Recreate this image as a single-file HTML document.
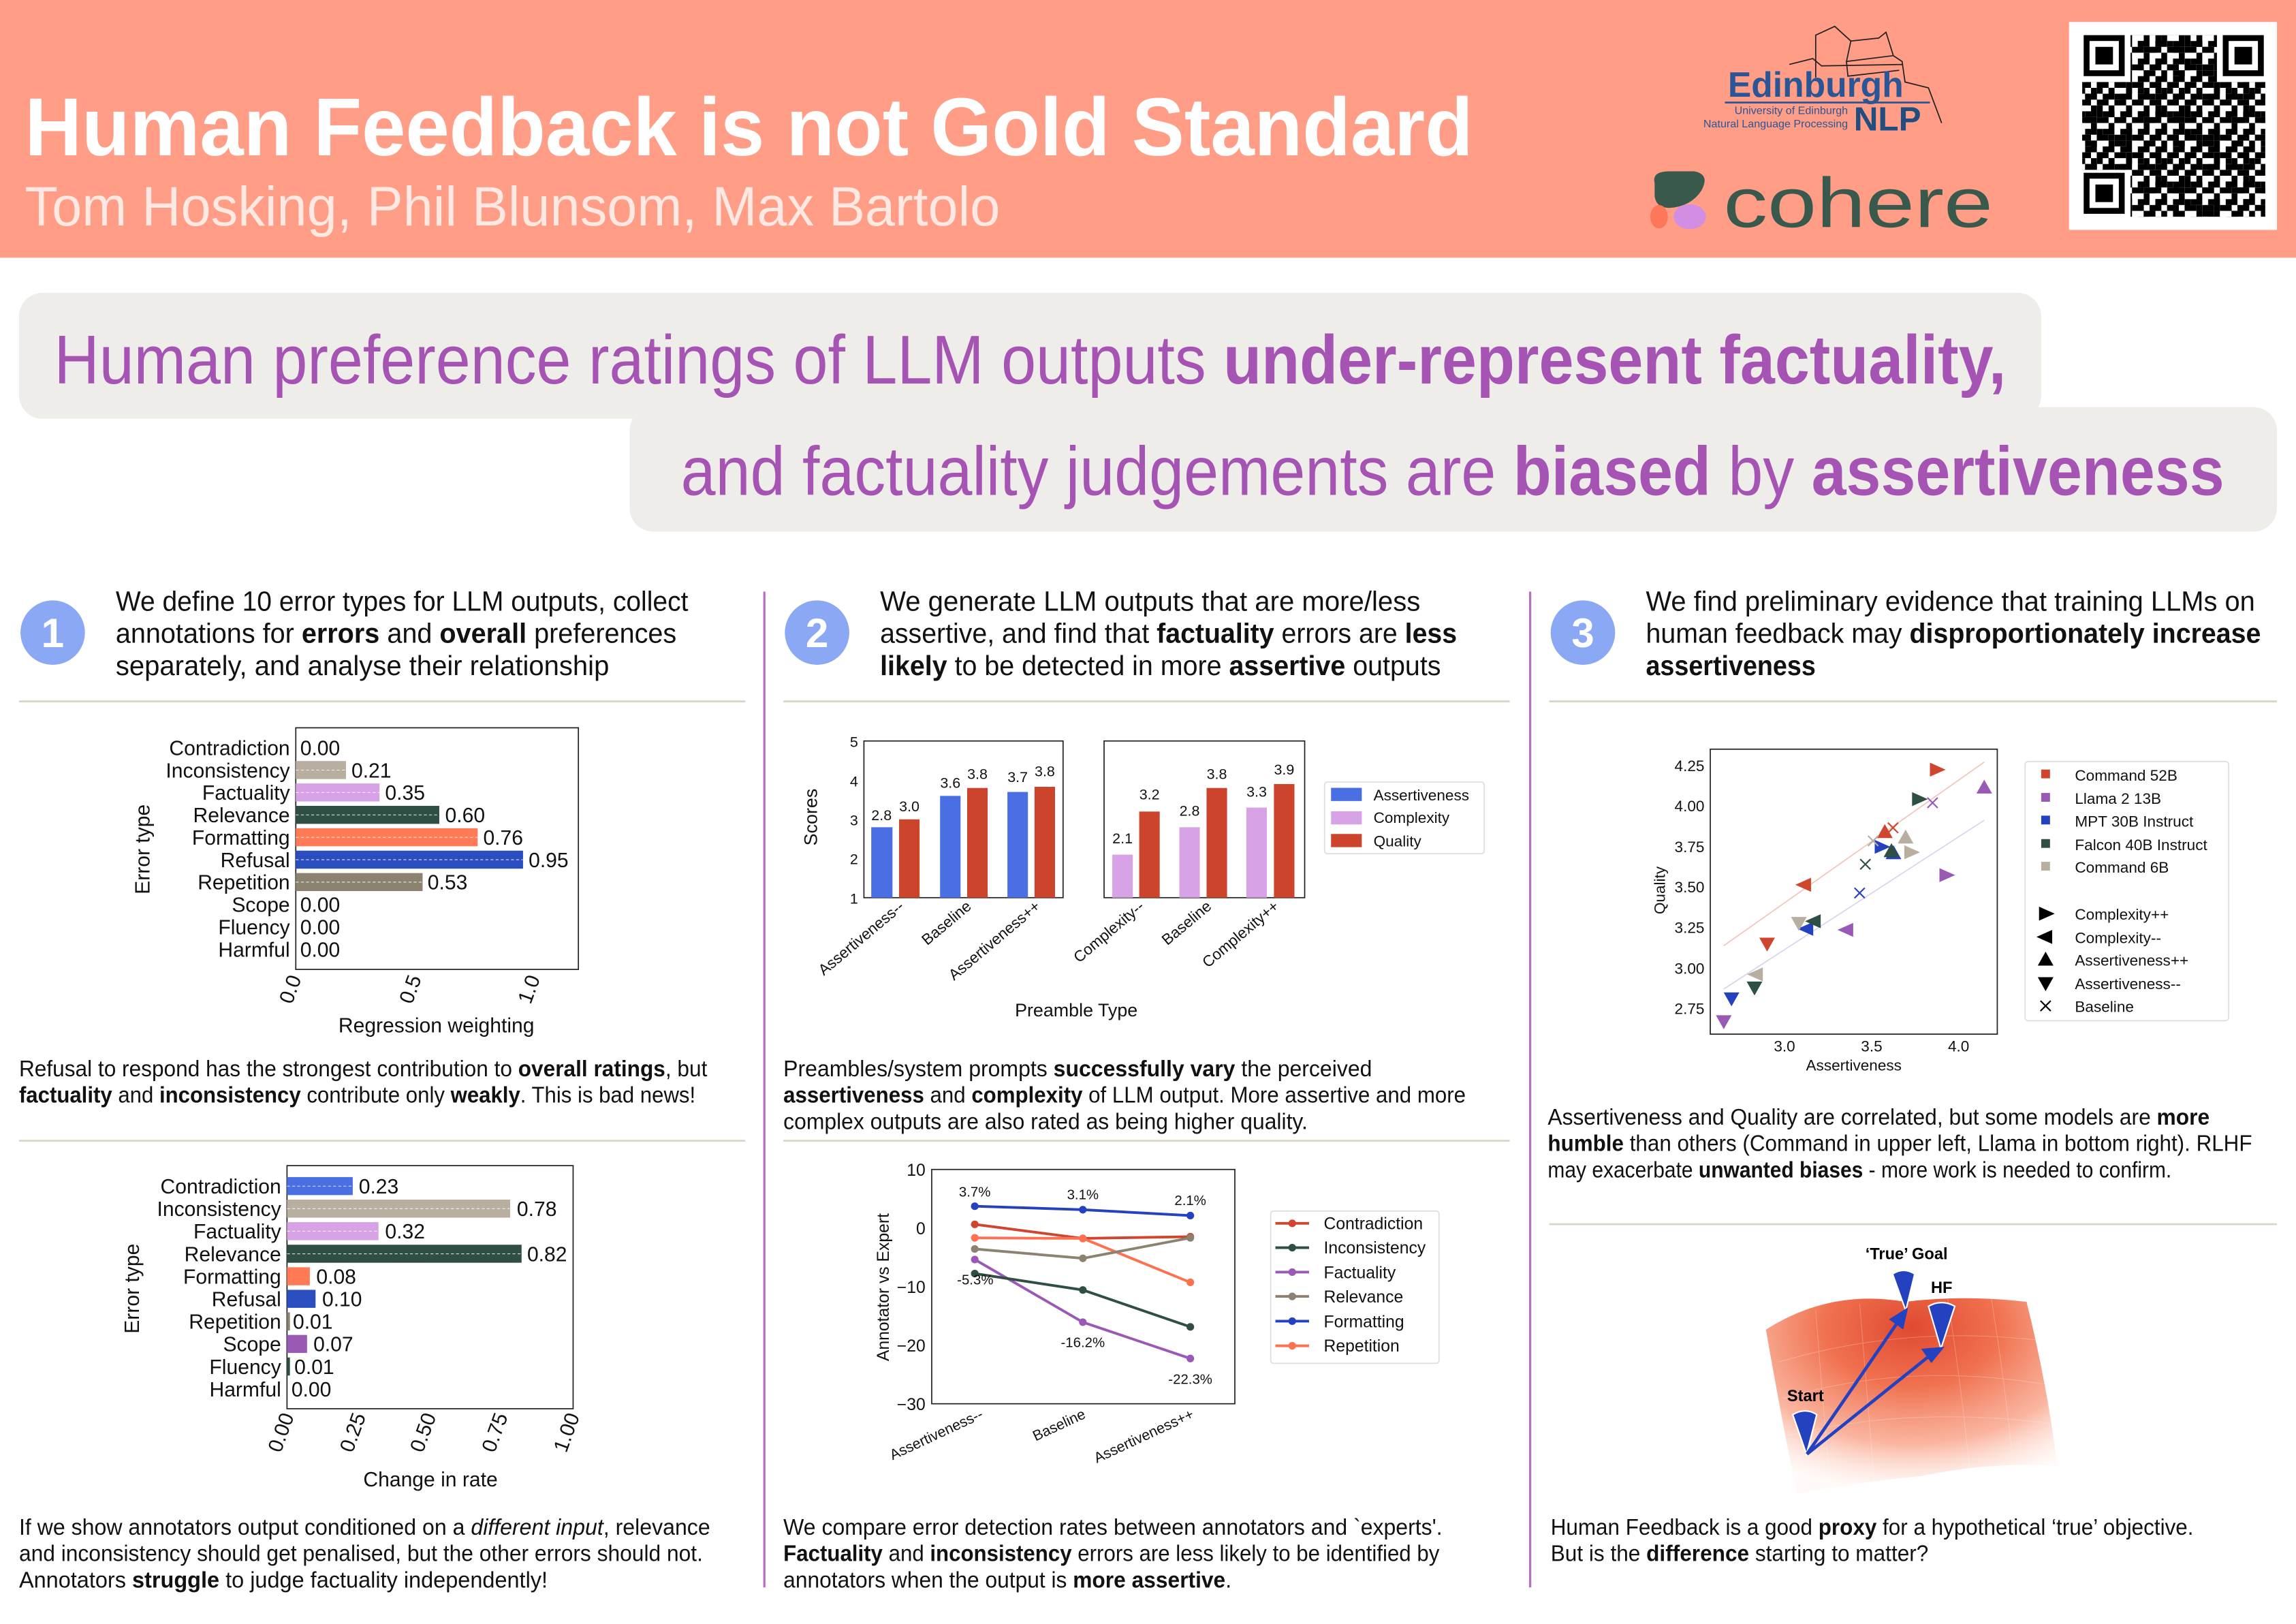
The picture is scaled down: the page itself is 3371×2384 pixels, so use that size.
<!DOCTYPE html>
<html><head><meta charset="utf-8"><style>
html,body{margin:0;padding:0;background:#fff;}
svg{display:block;}
text{font-family:"Liberation Sans",sans-serif;}
</style></head><body>
<svg width="3371" height="2384" viewBox="0 0 1568 1109" preserveAspectRatio="none" xmlns="http://www.w3.org/2000/svg">
<defs>
<path id="tr" d="M-4,-4L5,0L-4,4Z"/>
<path id="tl" d="M4,-4L-5,0L4,4Z"/>
<path id="tu" d="M-4.5,3.5L0,-4.5L4.5,3.5Z"/>
<path id="td" d="M-4.5,-3.5L0,4.5L4.5,-3.5Z"/>
<path id="tx" d="M-3.5,-3.5L3.5,3.5M-3.5,3.5L3.5,-3.5" fill="none" stroke-width="1"/>
<radialGradient id="surf" cx="0.5" cy="0.15" r="0.85">
<stop offset="0" stop-color="#E04A30"/><stop offset="0.35" stop-color="#F0714F"/><stop offset="0.7" stop-color="#F9A88F" stop-opacity="0.85"/><stop offset="1" stop-color="#FFE8E0" stop-opacity="0.2"/>
</radialGradient>
<pattern id="qa" width="12" height="12" patternUnits="userSpaceOnUse"><rect x="0" y="0" width="4" height="8" fill="#000"/><rect x="8" y="4" width="4" height="4" fill="#000"/><rect x="4" y="8" width="8" height="4" fill="#000"/></pattern>
<pattern id="qb" width="20" height="16" patternUnits="userSpaceOnUse"><rect x="4" y="0" width="8" height="4" fill="#000"/><rect x="12" y="8" width="4" height="8" fill="#000"/><rect x="0" y="12" width="4" height="4" fill="#000"/></pattern>
</defs>

<!-- header -->
<rect x="0" y="0" width="1568" height="176" fill="#FF9D87"/>
<text x="17" y="106" font-size="56" font-weight="bold" fill="#fff" textLength="989" lengthAdjust="spacingAndGlyphs">Human Feedback is not Gold Standard</text>
<text x="17" y="154" font-size="38" fill="#FFE8E1" textLength="666" lengthAdjust="spacingAndGlyphs">Tom Hosking, Phil Blunsom, Max Bartolo</text>
<path d="M1240,53 L1240,24 L1253,18 L1264,28 L1283,26 L1288,22 L1293,38 L1299,42 L1301,56 L1317,60 L1326,84 M1264,28 L1261,42 L1293,38 M1261,42 L1262,52 L1297,48 M1222,44 L1238,40 L1244,45 L1299,44" fill="none" stroke="#222" stroke-width="0.8"/>
<text x="1180" y="66" font-size="24" font-weight="bold" fill="#2B5696">Edinburgh</text>
<line x1="1178" y1="70" x2="1318" y2="70" stroke="#2B5696" stroke-width="1.3"/>
<text x="1262" y="78" font-size="7.5" font-family="Liberation Serif" fill="#2B5696" text-anchor="end">University of Edinburgh</text>
<text x="1262" y="87" font-size="7.5" font-family="Liberation Serif" fill="#2B5696" text-anchor="end">Natural Language Processing</text>
<text x="1266" y="89" font-size="23" font-weight="bold" fill="#1F4E7F">NLP</text>
<path d="M1130,125 Q1128,117 1140,117 L1157,117 Q1168,119 1162,130 Q1155,141 1140,142 Q1131,142 1130,134 Z" fill="#39594D"/>
<ellipse cx="1133" cy="148" rx="6" ry="8" fill="#FF7759"/>
<ellipse cx="1154" cy="148" rx="11" ry="8.5" fill="#D18EE2"/>
<text x="1177" y="155" font-size="48" fill="#39594D" font-family="DejaVu Sans" textLength="184" lengthAdjust="spacingAndGlyphs">cohere</text>
<rect x="1413" y="15" width="142" height="142" fill="#fff"/>
<rect x="1422" y="24" width="125" height="124" fill="url(#qa)"/>
<rect x="1422" y="24" width="125" height="124" fill="url(#qb)"/>
<g>
<rect x="1421" y="22" width="34" height="34" fill="#fff"/><rect x="1423" y="24" width="28" height="28" fill="#000"/><rect x="1427" y="28" width="20" height="20" fill="#fff"/><rect x="1431" y="32" width="12" height="12" fill="#000"/>
<rect x="1514" y="22" width="34" height="34" fill="#fff"/><rect x="1518" y="24" width="28" height="28" fill="#000"/><rect x="1522" y="28" width="20" height="20" fill="#fff"/><rect x="1526" y="32" width="12" height="12" fill="#000"/>
<rect x="1421" y="116" width="34" height="34" fill="#fff"/><rect x="1423" y="118" width="28" height="28" fill="#000"/><rect x="1427" y="122" width="20" height="20" fill="#fff"/><rect x="1431" y="126" width="12" height="12" fill="#000"/>
</g>

<!-- headline -->
<rect x="13" y="200" width="1381" height="86" rx="16" fill="#EFEDEA"/>
<rect x="430" y="278" width="1125" height="85" rx="16" fill="#EFEDEA"/>
<text x="37" y="262" font-size="47" fill="#A654B4" textLength="1333" lengthAdjust="spacingAndGlyphs">Human preference ratings of LLM outputs <tspan font-weight="bold">under-represent factuality,</tspan></text>
<text x="465" y="338" font-size="47" fill="#A654B4" textLength="1054" lengthAdjust="spacingAndGlyphs">and factuality judgements are <tspan font-weight="bold">biased</tspan> by <tspan font-weight="bold">assertiveness</tspan></text>

<line x1="522" y1="404" x2="522" y2="1084" stroke="#B56FC0" stroke-width="1.5"/>
<line x1="1045" y1="404" x2="1045" y2="1084" stroke="#B56FC0" stroke-width="1.5"/>
<g stroke="#DDD4C8" stroke-width="1.3">
<line x1="13" y1="479" x2="509" y2="479"/><line x1="13" y1="779" x2="509" y2="779"/>
<line x1="535" y1="479" x2="1031" y2="479"/><line x1="535" y1="779" x2="1031" y2="779"/>
<line x1="1058" y1="479" x2="1555" y2="479"/><line x1="1058" y1="836" x2="1555" y2="836"/>
</g>

<g font-size="19" fill="#111">
<circle cx="36" cy="432" r="22" fill="#8AA8F4"/><text x="36" y="442" font-size="28" font-weight="bold" fill="#fff" text-anchor="middle">1</text>
<text x="79" y="417" textLength="391" lengthAdjust="spacingAndGlyphs">We define 10 error types for LLM outputs, collect</text>
<text x="79" y="439" textLength="383" lengthAdjust="spacingAndGlyphs">annotations for <tspan font-weight="bold">errors</tspan> and <tspan font-weight="bold">overall</tspan> preferences</text>
<text x="79" y="461" textLength="337" lengthAdjust="spacingAndGlyphs">separately, and analyse their relationship</text>
<circle cx="558" cy="432" r="22" fill="#8AA8F4"/><text x="558" y="442" font-size="28" font-weight="bold" fill="#fff" text-anchor="middle">2</text>
<text x="601" y="417" textLength="369" lengthAdjust="spacingAndGlyphs">We generate LLM outputs that are more/less</text>
<text x="601" y="439" textLength="394" lengthAdjust="spacingAndGlyphs">assertive, and find that <tspan font-weight="bold">factuality</tspan> errors are <tspan font-weight="bold">less</tspan></text>
<text x="601" y="461" textLength="383" lengthAdjust="spacingAndGlyphs"><tspan font-weight="bold">likely</tspan> to be detected in more <tspan font-weight="bold">assertive</tspan> outputs</text>
<circle cx="1081" cy="432" r="22" fill="#8AA8F4"/><text x="1081" y="442" font-size="28" font-weight="bold" fill="#fff" text-anchor="middle">3</text>
<text x="1124" y="417" textLength="416" lengthAdjust="spacingAndGlyphs">We find preliminary evidence that training LLMs on</text>
<text x="1124" y="439" textLength="420" lengthAdjust="spacingAndGlyphs">human feedback may <tspan font-weight="bold">disproportionately increase</tspan></text>
<text x="1124" y="461" font-weight="bold" textLength="116" lengthAdjust="spacingAndGlyphs">assertiveness</text>
</g>

<g font-size="15.5" fill="#111">
<text x="13" y="735" textLength="470" lengthAdjust="spacingAndGlyphs">Refusal to respond has the strongest contribution to <tspan font-weight="bold">overall ratings</tspan>, but</text>
<text x="13" y="753" textLength="462" lengthAdjust="spacingAndGlyphs"><tspan font-weight="bold">factuality</tspan> and <tspan font-weight="bold">inconsistency</tspan> contribute only <tspan font-weight="bold">weakly</tspan>. This is bad news!</text>
<text x="13" y="1048" textLength="472" lengthAdjust="spacingAndGlyphs">If we show annotators output conditioned on a <tspan font-style="italic">different input</tspan>, relevance</text>
<text x="13" y="1066" textLength="467" lengthAdjust="spacingAndGlyphs">and inconsistency should get penalised, but the other errors should not.</text>
<text x="13" y="1084" textLength="361" lengthAdjust="spacingAndGlyphs">Annotators <tspan font-weight="bold">struggle</tspan> to judge factuality independently!</text>
<text x="535" y="735" textLength="402" lengthAdjust="spacingAndGlyphs">Preambles/system prompts <tspan font-weight="bold">successfully vary</tspan> the perceived</text>
<text x="535" y="753" textLength="466" lengthAdjust="spacingAndGlyphs"><tspan font-weight="bold">assertiveness</tspan> and <tspan font-weight="bold">complexity</tspan> of LLM output. More assertive and more</text>
<text x="535" y="771" textLength="358" lengthAdjust="spacingAndGlyphs">complex outputs are also rated as being higher quality.</text>
<text x="535" y="1048" textLength="450" lengthAdjust="spacingAndGlyphs">We compare error detection rates between annotators and `experts'.</text>
<text x="535" y="1066" textLength="448" lengthAdjust="spacingAndGlyphs"><tspan font-weight="bold">Factuality</tspan> and <tspan font-weight="bold">inconsistency</tspan> errors are less likely to be identified by</text>
<text x="535" y="1084" textLength="306" lengthAdjust="spacingAndGlyphs">annotators when the output is <tspan font-weight="bold">more assertive</tspan>.</text>
<text x="1057" y="768" textLength="452" lengthAdjust="spacingAndGlyphs">Assertiveness and Quality are correlated, but some models are <tspan font-weight="bold">more</tspan></text>
<text x="1057" y="786" textLength="481" lengthAdjust="spacingAndGlyphs"><tspan font-weight="bold">humble</tspan> than others (Command in upper left, Llama in bottom right). RLHF</text>
<text x="1057" y="804" textLength="426" lengthAdjust="spacingAndGlyphs">may exacerbate <tspan font-weight="bold">unwanted biases</tspan> - more work is needed to confirm.</text>
<text x="1059" y="1048" textLength="439" lengthAdjust="spacingAndGlyphs">Human Feedback is a good <tspan font-weight="bold">proxy</tspan> for a hypothetical ‘true’ objective.</text>
<text x="1059" y="1066" textLength="258" lengthAdjust="spacingAndGlyphs">But is the <tspan font-weight="bold">difference</tspan> starting to matter?</text>
</g>

<!-- Chart 1 -->
<g font-size="14" fill="#111">
<rect x="202" y="497" width="193" height="165" fill="none" stroke="#222" stroke-width="0.8"/>
<rect x="202" y="565.6" width="124.2" height="12.3" fill="#FF7A55"/>
<rect x="202" y="519.7" width="34.3" height="12.3" fill="#B8AFA0"/>
<rect x="202" y="535" width="57.2" height="12.3" fill="#D8A3E6"/>
<rect x="202" y="550.3" width="98" height="12.3" fill="#2F4F45"/>
<rect x="202" y="580.9" width="155.2" height="12.3" fill="#2A4EC0"/>
<rect x="202" y="596.2" width="86.6" height="12.3" fill="#8C8270"/>
<g stroke="#fff" stroke-width="0.5" stroke-dasharray="2,1.5" opacity="0.8">
<line x1="202" y1="525.9" x2="236" y2="525.9"/><line x1="202" y1="541.2" x2="259" y2="541.2"/><line x1="202" y1="556.5" x2="300" y2="556.5"/><line x1="202" y1="571.8" x2="326" y2="571.8"/><line x1="202" y1="587.1" x2="357" y2="587.1"/><line x1="202" y1="602.4" x2="288" y2="602.4"/>
</g>
<g text-anchor="end">
<text x="198" y="515.6">Contradiction</text><text x="198" y="530.9">Inconsistency</text><text x="198" y="546.2">Factuality</text><text x="198" y="561.5">Relevance</text><text x="198" y="576.8">Formatting</text><text x="198" y="592.1">Refusal</text><text x="198" y="607.4">Repetition</text><text x="198" y="622.7">Scope</text><text x="198" y="638">Fluency</text><text x="198" y="653.3">Harmful</text>
</g>
<text x="205" y="515.6">0.00</text><text x="240" y="530.9">0.21</text><text x="263" y="546.2">0.35</text><text x="304" y="561.5">0.60</text><text x="330" y="576.8">0.76</text><text x="361" y="592.1">0.95</text><text x="292" y="607.4">0.53</text><text x="205" y="622.7">0.00</text><text x="205" y="638">0.00</text><text x="205" y="653.3">0.00</text>
<text transform="translate(206,668) rotate(-70)" text-anchor="end">0.0</text>
<text transform="translate(288,668) rotate(-70)" text-anchor="end">0.5</text>
<text transform="translate(369,668) rotate(-70)" text-anchor="end">1.0</text>
<text x="298" y="705" text-anchor="middle">Regression weighting</text>
<text transform="translate(102,580) rotate(-90)" text-anchor="middle">Error type</text>
</g>

<!-- Chart 2 -->
<g font-size="14" fill="#111">
<rect x="196" y="796" width="195.4" height="166" fill="none" stroke="#222" stroke-width="0.8"/>
<rect x="196" y="803.8" width="44.9" height="12.3" fill="#4A6FE3"/>
<rect x="196" y="819.2" width="152.4" height="12.3" fill="#B8AFA0"/>
<rect x="196" y="834.6" width="62.5" height="12.3" fill="#D8A3E6"/>
<rect x="196" y="850" width="160.2" height="12.3" fill="#2F4F45"/>
<rect x="196" y="865.4" width="15.6" height="12.3" fill="#FF7A55"/>
<rect x="196" y="880.8" width="19.5" height="12.3" fill="#2A4EC0"/>
<rect x="196" y="896.2" width="2" height="12.3" fill="#8C8270"/>
<rect x="196" y="911.6" width="13.7" height="12.3" fill="#9B59B6"/>
<rect x="196" y="927" width="2" height="12.3" fill="#2F4F45"/>
<g stroke="#fff" stroke-width="0.5" stroke-dasharray="2,1.5" opacity="0.8">
<line x1="196" y1="810" x2="240" y2="810"/><line x1="196" y1="825.4" x2="348" y2="825.4"/><line x1="196" y1="840.8" x2="258" y2="840.8"/><line x1="196" y1="856.2" x2="356" y2="856.2"/>
</g>
<g text-anchor="end">
<text x="192" y="815">Contradiction</text><text x="192" y="830.4">Inconsistency</text><text x="192" y="845.8">Factuality</text><text x="192" y="861.2">Relevance</text><text x="192" y="876.6">Formatting</text><text x="192" y="892">Refusal</text><text x="192" y="907.4">Repetition</text><text x="192" y="922.8">Scope</text><text x="192" y="938.2">Fluency</text><text x="192" y="953.6">Harmful</text>
</g>
<text x="245" y="815">0.23</text><text x="353" y="830.4">0.78</text><text x="263" y="845.8">0.32</text><text x="360" y="861.2">0.82</text><text x="216" y="876.6">0.08</text><text x="220" y="892">0.10</text><text x="200" y="907.4">0.01</text><text x="214" y="922.8">0.07</text><text x="201" y="938.2">0.01</text><text x="199" y="953.6">0.00</text>
<text transform="translate(201,967) rotate(-70)" text-anchor="end">0.00</text>
<text transform="translate(250,967) rotate(-70)" text-anchor="end">0.25</text>
<text transform="translate(298,967) rotate(-70)" text-anchor="end">0.50</text>
<text transform="translate(347,967) rotate(-70)" text-anchor="end">0.75</text>
<text transform="translate(396,967) rotate(-70)" text-anchor="end">1.00</text>
<text x="294" y="1015" text-anchor="middle">Change in rate</text>
<text transform="translate(95,880) rotate(-90)" text-anchor="middle">Error type</text>
</g>

<!-- Middle bar chart -->
<g font-size="10" fill="#111">
<rect x="590" y="506" width="136" height="107" fill="none" stroke="#222" stroke-width="0.8"/>
<rect x="754" y="506" width="137" height="107" fill="none" stroke="#222" stroke-width="0.8"/>
<rect x="595" y="564.9" width="14.5" height="48.1" fill="#4A6FE3"/>
<rect x="614" y="559.5" width="14" height="53.5" fill="#CB442B"/>
<rect x="642" y="543.5" width="14" height="69.5" fill="#4A6FE3"/>
<rect x="660.5" y="538.1" width="14" height="74.9" fill="#CB442B"/>
<rect x="688" y="540.8" width="14" height="72.2" fill="#4A6FE3"/>
<rect x="706.5" y="537.3" width="14" height="75.7" fill="#CB442B"/>
<rect x="759.6" y="583.6" width="14" height="29.4" fill="#D8A3E6"/>
<rect x="778" y="554.2" width="14" height="58.8" fill="#CB442B"/>
<rect x="805.4" y="564.9" width="14" height="48.1" fill="#D8A3E6"/>
<rect x="824" y="538.1" width="14" height="74.9" fill="#CB442B"/>
<rect x="851.2" y="551.5" width="14" height="61.5" fill="#D8A3E6"/>
<rect x="870" y="535.4" width="14" height="77.6" fill="#CB442B"/>
<g text-anchor="middle">
<text x="602" y="560">2.8</text><text x="621" y="554">3.0</text><text x="649" y="538">3.6</text><text x="667.5" y="532">3.8</text><text x="695" y="534">3.7</text><text x="713.5" y="530">3.8</text>
<text x="766.6" y="576">2.1</text><text x="785" y="546">3.2</text><text x="812.4" y="557">2.8</text><text x="831" y="532">3.8</text><text x="858.2" y="544">3.3</text><text x="877" y="529">3.9</text>
</g>
<g text-anchor="end">
<text x="586" y="510">5</text><text x="586" y="537">4</text><text x="586" y="563.5">3</text><text x="586" y="590">2</text><text x="586" y="617">1</text>
</g>
<g font-size="10.5">
<text transform="translate(618,620) rotate(-40)" text-anchor="end">Assertiveness--</text>
<text transform="translate(664,620) rotate(-40)" text-anchor="end">Baseline</text>
<text transform="translate(711,620) rotate(-40)" text-anchor="end">Assertiveness++</text>
<text transform="translate(782,620) rotate(-40)" text-anchor="end">Complexity--</text>
<text transform="translate(828,620) rotate(-40)" text-anchor="end">Baseline</text>
<text transform="translate(874,620) rotate(-40)" text-anchor="end">Complexity++</text>
</g>
<text x="735" y="694" font-size="12.5" text-anchor="middle">Preamble Type</text>
<text transform="translate(558,558) rotate(-90)" font-size="12.5" text-anchor="middle">Scores</text>
<rect x="904.6" y="534" width="109" height="49" rx="2" fill="#fff" stroke="#ddd" stroke-width="0.8"/>
<rect x="909" y="538" width="21" height="9" fill="#4A6FE3"/><text x="938" y="546.5" font-size="10.5">Assertiveness</text>
<rect x="909" y="554" width="21" height="9" fill="#D8A3E6"/><text x="938" y="562" font-size="10.5">Complexity</text>
<rect x="909" y="569.5" width="21" height="9" fill="#CB442B"/><text x="938" y="578" font-size="10.5">Quality</text>
</g>

<!-- Line chart -->
<g font-size="10" fill="#111">
<rect x="636.3" y="798.6" width="207" height="160" fill="none" stroke="#222" stroke-width="0.8"/>
<g text-anchor="end" font-size="11.5">
<text x="632" y="803">10</text><text x="632" y="843">0</text><text x="632" y="883">−10</text><text x="632" y="923">−20</text><text x="632" y="963">−30</text>
</g>
<g fill="none" stroke-width="1.8">
<polyline points="665.7,823.7 739.5,826.1 812.9,830.1" stroke="#2442C0"/>
<polyline points="665.7,836.1 739.5,845.7 812.9,844.5" stroke="#D0452E"/>
<polyline points="665.7,845.3 739.5,845.7 812.9,875.7" stroke="#FF7050"/>
<polyline points="665.7,852.9 739.5,859.3 812.9,845.3" stroke="#8C8270"/>
<polyline points="665.7,860.1 739.5,902.9 812.9,927.7" stroke="#9B59B6"/>
<polyline points="665.7,869.7 739.5,880.9 812.9,906.1" stroke="#2F4F45"/>
</g>
<g>
<circle cx="665.7" cy="823.7" r="2.6" fill="#2442C0"/><circle cx="739.5" cy="826.1" r="2.6" fill="#2442C0"/><circle cx="812.9" cy="830.1" r="2.6" fill="#2442C0"/>
<circle cx="665.7" cy="836.1" r="2.6" fill="#D0452E"/><circle cx="739.5" cy="845.7" r="2.6" fill="#D0452E"/><circle cx="812.9" cy="844.5" r="2.6" fill="#D0452E"/>
<circle cx="665.7" cy="845.3" r="2.6" fill="#FF7050"/><circle cx="739.5" cy="845.7" r="2.6" fill="#FF7050"/><circle cx="812.9" cy="875.7" r="2.6" fill="#FF7050"/>
<circle cx="665.7" cy="852.9" r="2.6" fill="#8C8270"/><circle cx="739.5" cy="859.3" r="2.6" fill="#8C8270"/><circle cx="812.9" cy="845.3" r="2.6" fill="#8C8270"/>
<circle cx="665.7" cy="860.1" r="2.6" fill="#9B59B6"/><circle cx="739.5" cy="902.9" r="2.6" fill="#9B59B6"/><circle cx="812.9" cy="927.7" r="2.6" fill="#9B59B6"/>
<circle cx="665.7" cy="869.7" r="2.6" fill="#2F4F45"/><circle cx="739.5" cy="880.9" r="2.6" fill="#2F4F45"/><circle cx="812.9" cy="906.1" r="2.6" fill="#2F4F45"/>
</g>
<g text-anchor="middle" font-size="9.5">
<text x="665.7" y="817">3.7%</text><text x="739.5" y="819">3.1%</text><text x="812.9" y="823">2.1%</text>
<text x="666" y="877">-5.3%</text><text x="739.5" y="920">-16.2%</text><text x="812.9" y="945">-22.3%</text>
</g>
<text transform="translate(672,968) rotate(-25)" text-anchor="end">Assertiveness--</text>
<text transform="translate(742,968) rotate(-25)" text-anchor="end">Baseline</text>
<text transform="translate(816,968) rotate(-25)" text-anchor="end">Assertiveness++</text>
<text transform="translate(607,879) rotate(-90)" font-size="11.5" text-anchor="middle">Annotator vs Expert</text>
<rect x="867.8" y="827" width="115" height="104" rx="2" fill="#fff" stroke="#ddd" stroke-width="0.8"/>
<g stroke-width="1.8">
<line x1="871" y1="835.4" x2="894" y2="835.4" stroke="#D0452E"/><circle cx="882.5" cy="835.4" r="2.6" fill="#D0452E"/>
<line x1="871" y1="852" x2="894" y2="852" stroke="#2F4F45"/><circle cx="882.5" cy="852" r="2.6" fill="#2F4F45"/>
<line x1="871" y1="868.7" x2="894" y2="868.7" stroke="#9B59B6"/><circle cx="882.5" cy="868.7" r="2.6" fill="#9B59B6"/>
<line x1="871" y1="885.3" x2="894" y2="885.3" stroke="#8C8270"/><circle cx="882.5" cy="885.3" r="2.6" fill="#8C8270"/>
<line x1="871" y1="902.2" x2="894" y2="902.2" stroke="#2442C0"/><circle cx="882.5" cy="902.2" r="2.6" fill="#2442C0"/>
<line x1="871" y1="919" x2="894" y2="919" stroke="#FF7050"/><circle cx="882.5" cy="919" r="2.6" fill="#FF7050"/>
</g>
<g font-size="11.5">
<text x="904" y="839.5">Contradiction</text><text x="904" y="856">Inconsistency</text><text x="904" y="873">Factuality</text><text x="904" y="889.5">Relevance</text><text x="904" y="906.5">Formatting</text><text x="904" y="923">Repetition</text>
</g>
</g>

<!-- Scatter -->
<g font-size="10.5" fill="#111">
<rect x="1168" y="511.6" width="196" height="194.6" fill="none" stroke="#222" stroke-width="0.8"/>
<line x1="1177.2" y1="645.8" x2="1355.1" y2="520.4" stroke="#F2C4BC" stroke-width="0.8"/>
<line x1="1177.2" y1="675.4" x2="1355.1" y2="560.1" stroke="#D8D4EC" stroke-width="0.8"/>
<g fill="#D0452E" stroke="#D0452E"><use href="#tr" x="1322.5" y="525.6"/><use href="#tl" x="1232.3" y="604.2"/><use href="#tu" x="1287.2" y="568.3"/><use href="#td" x="1206.8" y="644.3"/><use href="#tx" x="1292.8" y="565.3"/></g>
<g fill="#9B59B6" stroke="#9B59B6"><use href="#tu" x="1355.1" y="537.9"/><use href="#tx" x="1319.8" y="548.2"/><use href="#tr" x="1329" y="597.6"/><use href="#tl" x="1261.1" y="635"/><use href="#td" x="1177.2" y="697.3"/></g>
<g fill="#2442C0" stroke="#2442C0"><use href="#tr" x="1284.8" y="578.3"/><use href="#tl" x="1233.8" y="634.3"/><use href="#tu" x="1293.1" y="582.7"/><use href="#td" x="1182.5" y="681.7"/><use href="#tx" x="1270" y="609.8"/></g>
<g fill="#2F4F45" stroke="#2F4F45"><use href="#tr" x="1310.3" y="545.7"/><use href="#tl" x="1238.9" y="629.1"/><use href="#tu" x="1291.7" y="581.3"/><use href="#td" x="1198.2" y="674.3"/><use href="#tx" x="1273.9" y="590.2"/></g>
<g fill="#B8AFA0" stroke="#B8AFA0"><use href="#tr" x="1305" y="582"/><use href="#tl" x="1199.4" y="665.4"/><use href="#tu" x="1301.4" y="572"/><use href="#td" x="1228.5" y="630.2"/><use href="#tx" x="1279.2" y="574.2"/></g>
<g text-anchor="end">
<text x="1164" y="526.5">4.25</text><text x="1164" y="554">4.00</text><text x="1164" y="582">3.75</text><text x="1164" y="609.5">3.50</text><text x="1164" y="637">3.25</text><text x="1164" y="665">3.00</text><text x="1164" y="692.5">2.75</text>
</g>
<g text-anchor="middle">
<text x="1218.7" y="718">3.0</text><text x="1278.2" y="718">3.5</text><text x="1337.6" y="718">4.0</text>
<text x="1266" y="731">Assertiveness</text>
</g>
<text transform="translate(1137,608) rotate(-90)" text-anchor="middle">Quality</text>
<rect x="1383" y="520" width="139" height="177" rx="2" fill="#fff" stroke="#ddd" stroke-width="0.8"/>
<rect x="1394" y="525.5" width="6" height="6" fill="#D0452E"/><text x="1417" y="533">Command 52B</text>
<rect x="1394" y="541.5" width="6" height="6" fill="#9B59B6"/><text x="1417" y="549">Llama 2 13B</text>
<rect x="1394" y="557" width="6" height="6" fill="#2442C0"/><text x="1417" y="564.5">MPT 30B Instruct</text>
<rect x="1394" y="573" width="6" height="6" fill="#2F4F45"/><text x="1417" y="580.5">Falcon 40B Instruct</text>
<rect x="1394" y="588.5" width="6" height="6" fill="#B8AFA0"/><text x="1417" y="596">Command 6B</text>
<g fill="#000" stroke="#000"><use href="#tr" x="1397" y="623.9"/><use href="#tl" x="1397" y="639.8"/><use href="#tu" x="1397" y="655.4"/><use href="#td" x="1397" y="671.3"/><use href="#tx" x="1397" y="686.9"/></g>
<text x="1417" y="628">Complexity++</text><text x="1417" y="644">Complexity--</text><text x="1417" y="659.5">Assertiveness++</text><text x="1417" y="675.5">Assertiveness--</text><text x="1417" y="691">Baseline</text>
</g>

<!-- Surface illustration -->
<path d="M1206,908 Q1250,880 1301,889 Q1340,884 1384,889 Q1398,945 1405,1001 Q1360,998 1312,1008 Q1270,1012 1227,1020 Q1215,960 1206,908 Z" fill="url(#surf)"/>
<g stroke="#fff" stroke-width="0.4" opacity="0.3" fill="none">
<path d="M1215,930 Q1300,905 1390,915 M1218,955 Q1300,930 1395,945 M1222,980 Q1305,960 1400,972 M1240,895 Q1245,960 1250,1015 M1270,890 Q1275,950 1280,1012 M1330,886 Q1340,950 1345,1004 M1360,887 Q1370,950 1375,1002"/>
</g>
<path d="M1292.5,870 Q1300,865 1307.6,870 L1301.5,895 Z" fill="#2442C0" stroke="#fff" stroke-width="1"/>
<path d="M1317,892 Q1326,887 1335,892 L1325.5,921 Z" fill="#2442C0" stroke="#fff" stroke-width="1"/>
<path d="M1224.3,966 Q1233,961 1240.7,966 L1233.7,993 Z" fill="#2442C0" stroke="#fff" stroke-width="1"/>
<g stroke="#2442C0" stroke-width="2.2" fill="#2442C0">
<line x1="1234" y1="993" x2="1298" y2="900"/><path d="M1301.5,895 L1292,901 L1299,906 Z"/>
<line x1="1234" y1="993" x2="1320" y2="924"/><path d="M1325.5,921 L1314,922 L1319,929 Z"/>
</g>
<g font-size="11" font-weight="bold" fill="#000" text-anchor="middle">
<text x="1302" y="860">‘True’ Goal</text><text x="1326" y="883">HF</text><text x="1233" y="957">Start</text>
</g>
</svg>
</body></html>
